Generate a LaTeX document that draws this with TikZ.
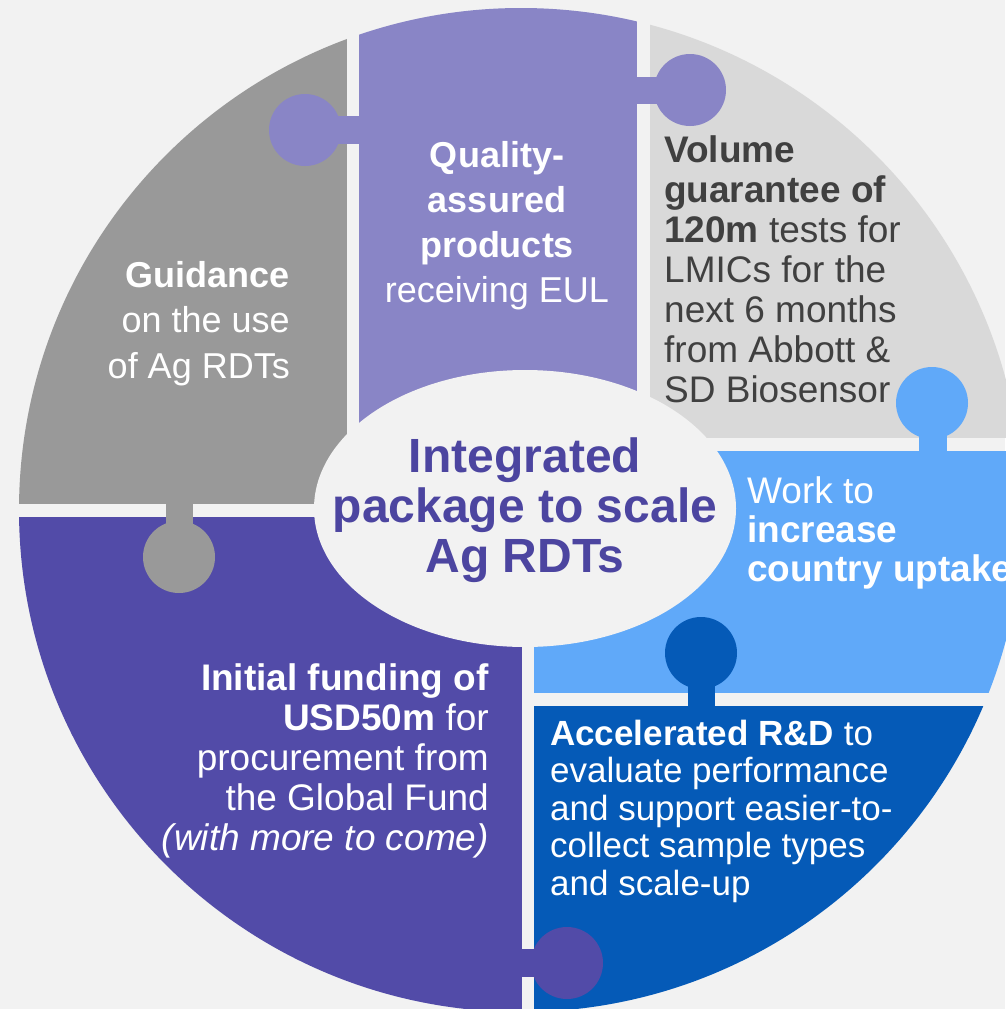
\documentclass[tikz,border=0pt]{standalone}
\usepackage{fontspec}
\setmainfont{Liberation Sans}

\definecolor{bg}{HTML}{F2F2F2}
\definecolor{pgray}{HTML}{999999}
\definecolor{plilac}{HTML}{8985C6}
\definecolor{psilver}{HTML}{D9D9D9}
\definecolor{psky}{HTML}{60A9F9}
\definecolor{pnavy}{HTML}{055AB7}
\definecolor{pviolet}{HTML}{524BA8}
\definecolor{coretext}{HTML}{4C45A0}
\definecolor{darktext}{HTML}{404040}

\tikzset{
  txt/.style={inner sep=0pt, align=#1, text=white},
}

\begin{document}
\begin{tikzpicture}[x=1pt,y=-1pt]
\useasboundingbox[fill=bg] (0,0) rectangle (1005,1009);
\begin{scope}
\clip (521,510) circle (502); % the whole disc
% the six pieces
\fill[pgray]   (0,0)     rectangle (347,504);
\fill[plilac]  (359,0)   rectangle (637,510);
\fill[psilver] (650,0)   rectangle (1100,438);
\fill[psky]    (534,451) rectangle (1100,693);
\fill[pnavy]   (534,706) rectangle (1100,1100);
\fill[pviolet] (0,517)   rectangle (522,1100);
% necks of the knobs
\foreach \xa/\ya/\xb/\yb/\col in {300/116/365/144/plilac, 630/77/695/104/plilac,
    919/400/947/455/psky, 166/500/193/560/pgray, 688/650/715/710/pnavy,
    518/949/570/977/pviolet}
\fill[\col] (\xa,\ya) rectangle (\xb,\yb);
% heads of the knobs
\foreach \cx/\cy/\col in {305/130/plilac, 690/90/plilac, 932/403/psky,
    179/557/pgray, 701/653/pnavy, 567/963/pviolet}
\fill[\col] (\cx,\cy) circle (36);
\end{scope}
\fill[bg] (525,508.5) ellipse (211 and 138.5); % middle

% texts, placed by the baseline of their last line
\node[txt=center, anchor=base, text=coretext, font=\fontsize{48}{50}\selectfont\bfseries]
  (core) at (525,572) {Integrated\\package to scale\\Ag RDTs};
\node[txt=right, anchor=base east, font=\fontsize{36}{45.5}\selectfont]
  (guidance) at (290,378) {\textbf{Guidance}\\on the use\\of Ag RDTs};
\node[txt=center, anchor=base, font=\fontsize{36}{45}\selectfont]
  (quality) at (497,302) {\textbf{Quality-}\\\textbf{assured}\\\textbf{products}\\receiving EUL};
\node[txt=left, anchor=base west, text=darktext, font=\fontsize{37}{40}\selectfont]
  (volume) at (664,402) {\textbf{Volume}\\\textbf{guarantee of}\\\textbf{120m} tests for\\LMICs for the\\next 6 months\\from Abbott \&\\SD Biosensor};
\node[txt=left, anchor=base west, font=\fontsize{37}{39}\selectfont]
  (uptake) at (747,581) {Work to\\\textbf{increase}\\\textbf{country uptake}};
\node[txt=right, anchor=base east, font=\fontsize{37}{40}\selectfont]
  (funding) at (489,850) {\textbf{Initial funding of}\\\textbf{USD50m} for\\procurement from\\the Global Fund\\\textit{(with more to come)}};
\node[txt=left, anchor=base west, font=\fontsize{35}{37.5}\selectfont]
  (rnd) at (550,895) {\textbf{Accelerated R\&D} to\\evaluate performance\\and support easier-to-\\collect sample types\\and scale-up};
\end{tikzpicture}
\end{document}
